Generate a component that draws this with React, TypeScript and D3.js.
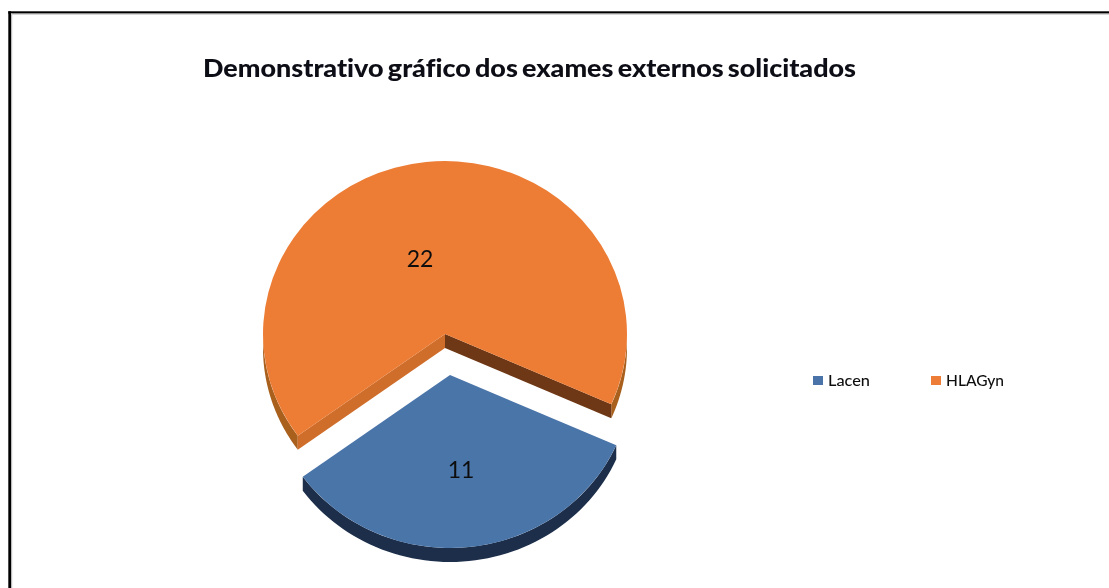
import React from "react";
import * as d3 from "d3";

const categories = ["Lacen", "HLAGyn"];
const values = [11, 22];
const topColors = ["#4A74A9", "#ED7D36"];
const wallColors = ["#1B2E49", "#A9601F"];
const cutColors = ["#2B4468", "#CF6D2A"];
const darkCutColor = "#6E3713";
const titleText = "Demonstrativo gráfico dos exames externos solicitados";

const W = 1109, H = 588;
const RX = 182, RY = 173, DEPTH = 14;
const deg = Math.PI / 180;
const START = 114 * deg;
const centers = [{ x: 450, y: 375 }, { x: 445, y: 334 }];
const labelPos = [{ x: 461, y: 469 }, { x: 420, y: 257.5 }];
const legendX = [813, 931];
const legendTextWidth = [42, 58];

const pie = d3.pie<number>().sort(null).startAngle(START).endAngle(START + 2 * Math.PI);
const arcs = pie(values);
const arcGen = d3.arc<d3.PieArcDatum<number>>().innerRadius(0).outerRadius(RX);

const pt = (c: { x: number; y: number }, a: number, dy = 0): [number, number] => [
  c.x + RX * Math.sin(a),
  c.y - RY * Math.cos(a) + dy,
];
const lineGen = d3.line();

function wall(c: { x: number; y: number }, a0: number, a1: number) {
  const lo = Math.min(a0, a1), hi = Math.max(a0, a1);
  const steps = d3.range(0, 61).map((i) => lo + ((hi - lo) * i) / 60);
  const pts = [...steps.map((a) => pt(c, a)), ...steps.slice().reverse().map((a) => pt(c, a, DEPTH))];
  return lineGen(pts) + "Z";
}
function cut(c: { x: number; y: number }, a: number) {
  const tip = pt(c, a);
  return lineGen([[c.x, c.y], tip, [tip[0], tip[1] + DEPTH], [c.x, c.y + DEPTH]]) + "Z";
}

export default function App() {
  const blue = arcs[0];
  const orange = arcs[1];
  return (
    <svg
      width={W}
      height={H}
      viewBox={`0 0 ${W} ${H}`}
      style={{ position: "fixed", left: 0, top: 0, background: "#fff", display: "block" }}
    >
      <defs>
        <filter id="soft" x="-5%" y="-5%" width="110%" height="110%">
          <feGaussianBlur stdDeviation="0.5" />
        </filter>
        <filter id="softText" x="-5%" y="-20%" width="110%" height="140%">
          <feGaussianBlur stdDeviation="0.35" />
        </filter>
      </defs>
      <rect x={0} y={0} width={W} height={H} fill="#fff" />
      <rect x={8.3} y={11.3} width={2.7} height={H - 11.3} fill="#000" />
      <rect x={8.3} y={11.3} width={W - 8.3} height={2.3} fill="#000" />
      <rect x={11} y={13.6} width={1.2} height={H - 13.6} fill="#bbb" />
      <rect x={11} y={13.6} width={W - 11} height={1.2} fill="#ccc" />

      <g filter="url(#soft)">
        {/* HLAGyn slice */}
        <path d={wall(centers[1], orange.startAngle, 1.5 * Math.PI)} fill={wallColors[1]} />
        <path d={wall(centers[1], 2.5 * Math.PI, orange.endAngle)} fill={wallColors[1]} />
        <path d={cut(centers[1], orange.startAngle)} fill={cutColors[1]} />
        <path d={cut(centers[1], orange.endAngle)} fill={darkCutColor} />
        <path
          d={arcGen(orange) ?? ""}
          fill={topColors[1]}
          transform={`translate(${centers[1].x},${centers[1].y}) scale(1,${RY / RX})`}
        />
        {/* Lacen slice */}
        <path d={wall(centers[0], blue.startAngle, blue.endAngle)} fill={wallColors[0]} />
        <path
          d={arcGen(blue) ?? ""}
          fill={topColors[0]}
          transform={`translate(${centers[0].x},${centers[0].y}) scale(1,${RY / RX})`}
        />
      </g>

      <text
        x={203}
        y={77}
        fontFamily="Lato, 'Open Sans', sans-serif"
        fontWeight={900}
        fontSize={25}
        fill="#0a0a14"
        textLength={653}
        lengthAdjust="spacingAndGlyphs"
        wordSpacing={-2}
        filter="url(#softText)"
        style={{ fontVariantLigatures: "none" }}
      >
        {titleText}
      </text>

      {values.map((v, i) => (
        <text
          key={categories[i]}
          x={labelPos[i].x}
          y={labelPos[i].y}
          textAnchor="middle"
          dominantBaseline="central"
          fontFamily="Lato, sans-serif"
          fontSize={23}
          fill="#111"
          filter="url(#softText)"
        >
          {v}
        </text>
      ))}

      {categories.map((c, i) => (
        <g key={c}>
          <rect x={legendX[i]} y={376} width={10} height={9} fill={topColors[i]} />
          <text
            x={legendX[i] + 15}
            y={385.5}
            fontFamily="Lato, sans-serif"
            fontWeight={500}
            fontSize={14.5}
            fill="#111"
            textLength={legendTextWidth[i]}
            lengthAdjust="spacingAndGlyphs"
            filter="url(#softText)"
          >
            {c}
          </text>
        </g>
      ))}
    </svg>
  );
}
